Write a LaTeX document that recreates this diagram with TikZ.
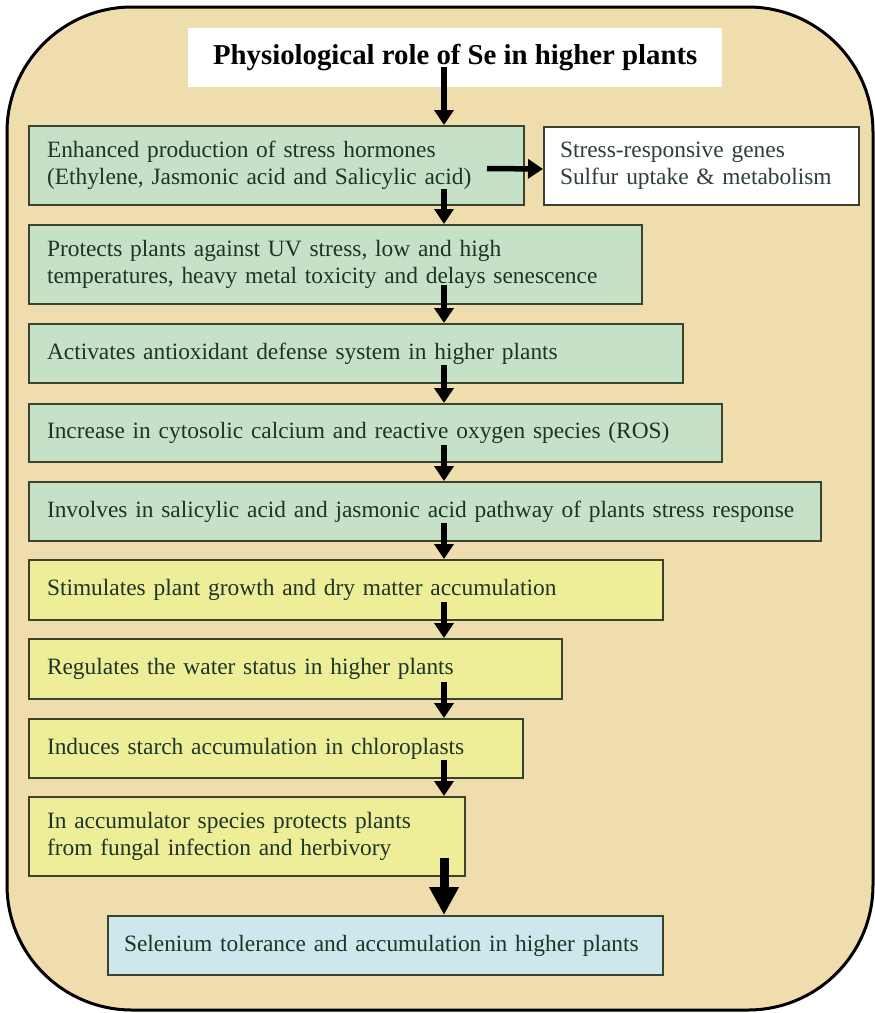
\documentclass[tikz,border=0pt]{standalone}
\usepackage{fontspec}
\setmainfont{Liberation Serif}
\usetikzlibrary{arrows.meta}
\definecolor{parch}{HTML}{EFDDAE}
\definecolor{gbox}{HTML}{C5E2C8}
\definecolor{ybox}{HTML}{EFEE98}
\definecolor{bbox}{HTML}{CDE7EC}
\definecolor{bord}{HTML}{3A4230}
\definecolor{txt}{HTML}{1C3526}
\definecolor{sidetxt}{HTML}{2E3E3E}
\begin{document}
\begin{tikzpicture}[x=1pt,y=-1pt,
  boxbase/.style={draw=bord,line width=2pt,anchor=north west,inner xsep=18pt,inner ysep=0pt,
     align=left,text=txt,font=\fontsize{23.4}{27}\selectfont},
  greenbox/.style={boxbase,fill=gbox},
  yellowbox/.style={boxbase,fill=ybox},
  arr/.style={line width=5.5pt,-{Triangle[length=15pt,width=19pt]}},
  bigarr/.style={line width=9pt,-{Triangle[length=28pt,width=28pt]}}]
\useasboundingbox (0,0) rectangle (875,1013);
\fill[white] (0,0) rectangle (875,1013);
\draw[line width=3pt,fill=parch,rounded corners=125pt] (7,7) rectangle (873,1010);
\coordinate (ax) at (444,0);
\node[fill=white,anchor=north west,minimum width=534pt,minimum height=59pt,inner sep=0pt,
  font=\fontsize{28.8}{32}\selectfont\bfseries] (title) at (188,28) {Physiological role of Se in higher plants};
\node[greenbox,text width=459pt,minimum height=79pt] (b1) at (28,125)
  {\mbox{Enhanced production of stress hormones}\\\mbox{(Ethylene, Jasmonic acid and Salicylic acid)}};
\node[boxbase,fill=white,text=sidetxt,inner xsep=16pt,text width=283pt,minimum height=78pt] (side) at (543,126)
  {\mbox{Stress-responsive genes}\\\mbox{Sulfur uptake \& metabolism}};
\node[greenbox,text width=577pt,minimum height=79pt] (b2) at (28,224)
  {\mbox{Protects plants against UV stress, low and high}\\\mbox{temperatures, heavy metal toxicity and delays senescence}};
\node[greenbox,text width=618pt,minimum height=59pt] (b3) at (28,323)
  {\mbox{Activates antioxidant defense system in higher plants}};
\node[greenbox,text width=657pt,minimum height=58pt] (b4) at (28,403)
  {\mbox{Increase in cytosolic calcium and reactive oxygen species (ROS)}};
\node[greenbox,text width=756pt,minimum height=59pt] (b5) at (28,481)
  {\mbox{Involves in salicylic acid and jasmonic acid pathway of plants stress response}};
\node[yellowbox,text width=598pt,minimum height=60pt] (b6) at (28,559)
  {\mbox{Stimulates plant growth and dry matter accumulation}};
\node[yellowbox,text width=497pt,minimum height=60pt] (b7) at (28,638)
  {\mbox{Regulates the water status in higher plants}};
\node[yellowbox,text width=458pt,minimum height=59pt] (b8) at (28,718)
  {\mbox{Induces starch accumulation in chloroplasts}};
\node[yellowbox,text width=400pt,minimum height=79pt] (b9) at (28,796)
  {\mbox{In accumulator species protects plants}\\\mbox{from fungal infection and herbivory}};
\node[boxbase,fill=bbox,inner xsep=16pt,text width=523pt,minimum height=59pt] (fin) at (107,915)
  {\mbox{Selenium tolerance and accumulation in higher plants}};
\draw[arr] ([yshift=20pt]title.south -| ax) -- (b1.north -| ax);
\draw[arr] ([xshift=-38pt,yshift=-3pt]b1.east) -- ([yshift=-3pt]side.west);
\draw[arr] ([yshift=17pt]b1.south -| ax) -- (b2.north -| ax);
\draw[arr] ([yshift=20pt]b2.south -| ax) -- (b3.north -| ax);
\draw[arr] ([yshift=19pt]b3.south -| ax) -- (b4.north -| ax);
\draw[arr] ([yshift=18pt]b4.south -| ax) -- (b5.north -| ax);
\draw[arr] ([yshift=19pt]b5.south -| ax) -- (b6.north -| ax);
\draw[arr] ([yshift=19pt]b6.south -| ax) -- (b7.north -| ax);
\draw[arr] ([yshift=18pt]b7.south -| ax) -- (b8.north -| ax);
\draw[arr] ([yshift=19pt]b8.south -| ax) -- (b9.north -| ax);
\draw[bigarr] ([yshift=19pt]b9.south -| ax) -- (fin.north -| ax);
\end{tikzpicture}
\end{document}
